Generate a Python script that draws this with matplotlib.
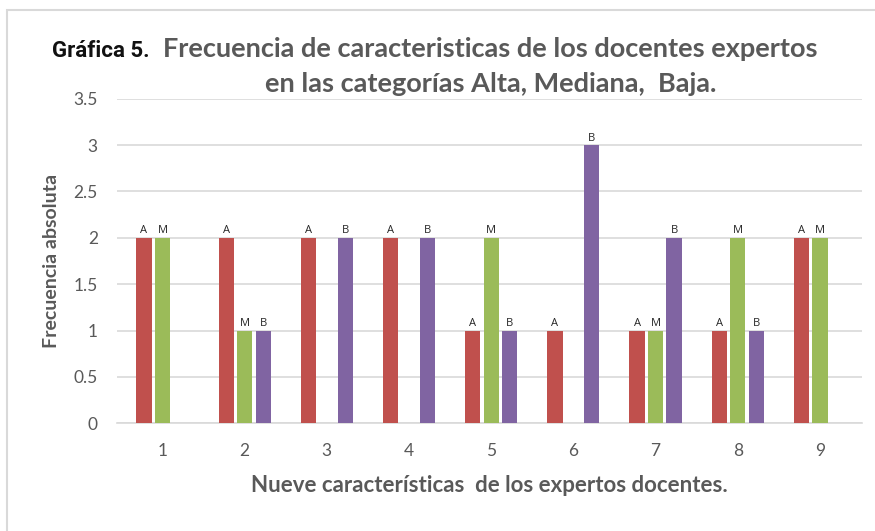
import matplotlib
matplotlib.use("Agg")
import matplotlib.pyplot as plt
import numpy as np
from matplotlib.patches import Rectangle

categories = ["1", "2", "3", "4", "5", "6", "7", "8", "9"]
series_names = ["A", "M", "B"]
alta = [2, 2, 2, 2, 1, 1, 1, 1, 2]
mediana = [2, 1, 0, 0, 2, 0, 1, 2, 2]
baja = [0, 1, 2, 2, 1, 3, 2, 1, 0]
colors = ["#C0504D", "#9BBB59", "#8064A2"]

plt.rcParams['font.family'] = ['Lato', 'DejaVu Sans']

fig = plt.figure(figsize=(8.75, 5.31), dpi=100)
ax = fig.add_axes([0.134, 0.203, 0.851, 0.611])

x = np.arange(1, len(categories) + 1)
step = 0.225
width = 0.185
for i, (vals, name, c) in enumerate(zip([alta, mediana, baja], series_names, colors)):
    pos = x + (i - 1) * step
    ax.bar(pos, vals, width=width, color=c, zorder=3)
    for xp, v in zip(pos, vals):
        if v > 0:
            ax.text(xp, v + 0.015, name, ha='center', va='bottom', fontsize=8,
                    color='#262626', family=['Open Sans', 'DejaVu Sans'], zorder=4)

ax.set_xlim(0.45, 9.51)
ax.set_ylim(0, 3.5)
ax.set_yticks(np.arange(0, 3.51, 0.5))
ax.set_yticklabels(["0", "0.5", "1", "1.5", "2", "2.5", "3", "3.5"])
ax.set_xticks(x)
ax.set_xticklabels(categories)
ax.tick_params(axis='both', length=0, colors='#595959', labelsize=12.5)
ax.tick_params(axis='x', pad=14)
ax.tick_params(axis='y', pad=14)
ax.grid(axis='y', color='#D9D9D9', linewidth=1.2, zorder=0)
for s in ['top', 'right', 'left']:
    ax.spines[s].set_visible(False)
ax.spines['bottom'].set_color('#D9D9D9')
ax.spines['bottom'].set_linewidth(1.2)

ax.set_xlabel("Nueve características  de los expertos docentes.", fontsize=16,
              fontweight='bold', color='#595959', labelpad=12)
ax.set_ylabel("Frecuencia absoluta", fontsize=14, fontweight='bold',
              color='#595959', labelpad=10)

# Title
fig.text(52 / 875, 1 - 51 / 531, "Gráfica 5.", fontsize=16, fontweight='bold',
         color='#111111', ha='left', va='center', family=['Roboto', 'DejaVu Sans'])
fig.text(163 / 875, 1 - 49 / 531, "Frecuencia de caracteristicas de los docentes expertos",
         fontsize=19.5, color='#595959', ha='left', va='center', fontweight='bold')
fig.text(491 / 875, 1 - 84 / 531, "en las categorías Alta, Mediana,  Baja.",
         fontsize=19.5, color='#595959', ha='center', va='center', fontweight='bold')

# Outer frame (left and top visible)
fig.patches.append(Rectangle((7 / 875, -0.1), 1.2, 1.1 - 10 / 531,
                             transform=fig.transFigure, fill=False,
                             edgecolor='#D9D9D9', linewidth=1.5))

fig.savefig("out.png", dpi=100)
